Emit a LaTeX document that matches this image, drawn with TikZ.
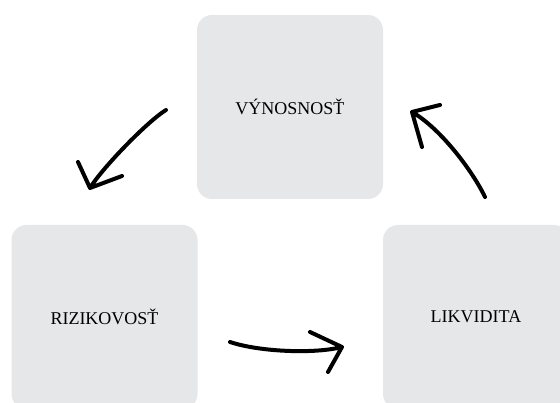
\documentclass[tikz,border=0pt]{standalone}
\usepackage{fontspec}
\setmainfont{Liberation Serif}
\definecolor{boxgray}{HTML}{E6E7E9}
\begin{document}
\begin{tikzpicture}[x=1pt,y=-1pt,
  card/.style={fill=boxgray, draw=none, rounded corners=15pt,
    minimum width=186pt, minimum height=184pt, inner sep=0pt,
    font=\fontsize{18}{22}\selectfont, text=black},
  hand/.style={line width=4pt, line cap=round, line join=round, black}]
\useasboundingbox (0,0) rectangle (560,403);
\node[card] (vyn) at (290,107) {VÝNOSNOSŤ};
\node[card] (riz) at (104.5,317) {RIZIKOVOSŤ};
\node[card] (lik) at (476,317) {LIKVIDITA};
% arrow 1: výnosnosť -> rizikovosť
\coordinate (a1s) at (166,110);
\coordinate (a1t) at (90,188);
\coordinate (a1l) at (78,162);
\coordinate (a1r) at (122,176);
\draw[hand] (a1s) .. controls (148,121) and (103,167) .. (a1t) -- (a1l) (a1t) -- (a1r);
% arrow 3: rizikovosť -> likvidita
\coordinate (a3s) at (230,342);
\coordinate (a3t) at (342,347);
\coordinate (a3l) at (310,332);
\coordinate (a3r) at (328,372);
\draw[hand] (a3s) .. controls (260,352) and (315,354) .. (a3t) -- (a3l) (a3t) -- (a3r);
% arrow 2: likvidita -> výnosnosť
\coordinate (a2s) at (485,197);
\coordinate (a2t) at (412,112);
\coordinate (a2l) at (440,105);
\coordinate (a2r) at (422,147);
\draw[hand] (a2s) .. controls (472,170) and (440,128) .. (a2t) -- (a2l) (a2t) -- (a2r);
\end{tikzpicture}
\end{document}
